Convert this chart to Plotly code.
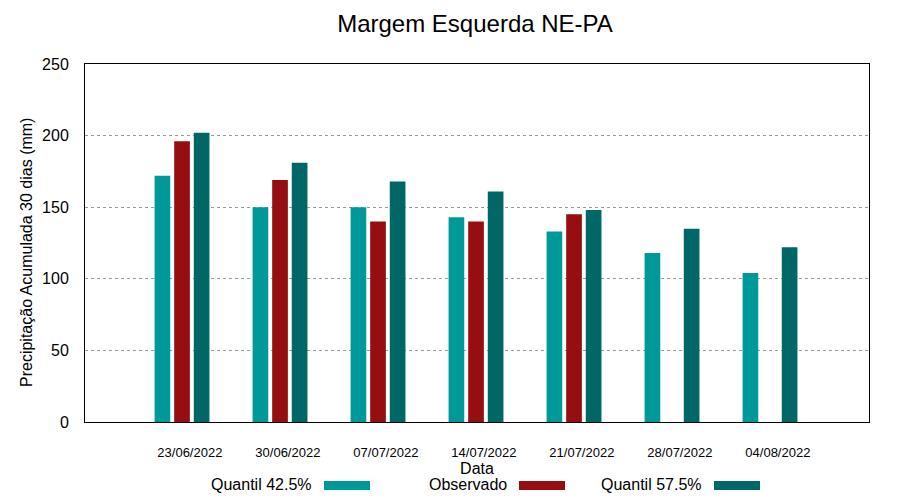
import plotly.graph_objects as go

dates = ["23/06/2022", "30/06/2022", "07/07/2022", "14/07/2022", "21/07/2022", "28/07/2022", "04/08/2022"]
q425 = [172, 150, 150, 143, 133, 118, 104]
observado = [196, 169, 140, 140, 145, None, None]
q575 = [202, 181, 168, 161, 148, 135, 122]

names = ["Quantil 42.5%", "Observado", "Quantil 57.5%"]
colors = ["#009999", "#960e10", "#006666"]
series = [q425, observado, q575]

# page offset (body margin) compensation
OFF = 8
W, H = 900 - OFF, 500 - OFF
ml, mr, mt, mb = 85 - OFF, 31, 64 - OFF, 78
pw, ph = W - ml - mr, H - mt - mb


def px_x(p):
    return (p - OFF - ml) / pw


def px_y(p):
    return 1 - (p - OFF - mt) / ph


x = list(range(len(dates)))
fig = go.Figure()
for nm, col, vals in zip(names, colors, series):
    fig.add_trace(go.Bar(x=x, y=vals, name=nm, marker=dict(color=col, line=dict(width=0)),
                         showlegend=False))

# gnuplot-style legend (text then swatch)
leg_text_x = [311, 506, 701]
for nm, col, tx in zip(names, colors, leg_text_x):
    fig.add_annotation(text=nm, x=px_x(tx + 3), y=px_y(484), xref="paper", yref="paper",
                       xanchor="right", yanchor="middle", showarrow=False,
                       font=dict(family="Liberation Sans, Arial", size=16, color="black"))
    fig.add_shape(type="rect", xref="paper", yref="paper",
                  x0=px_x(tx + 13), x1=px_x(tx + 59),
                  y0=px_y(490), y1=px_y(481),
                  fillcolor=col, line=dict(width=0))

# y-axis title
fig.add_annotation(text="Precipitação Acumulada 30 dias (mm)", x=px_x(26), y=px_y(253),
                   xref="paper", yref="paper", xanchor="center", yanchor="middle",
                   textangle=-90, showarrow=False,
                   font=dict(family="Liberation Sans, Arial", size=16, color="black"))

fig.update_layout(
    width=W, height=H,
    margin=dict(l=ml, r=mr, t=mt, b=mb),
    barmode="group", bargap=0.4, bargroupgap=0.2,
    plot_bgcolor="white", paper_bgcolor="white",
    font=dict(family="Liberation Sans, Arial", color="black"),
    title=dict(text="Margem Esquerda NE-PA", x=(475 - OFF) / W, xanchor="center",
               y=1 - (24 - OFF) / H, yanchor="middle", font=dict(size=24, color="black")),
)
fig.update_xaxes(
    range=[-0.99, 7.01], tickmode="array", tickvals=[i + 0.08 for i in x], ticktext=dates,
    tickfont=dict(size=13), ticks="", ticklabelstandoff=18,
    showline=True, linecolor="black", linewidth=1, mirror=True, showgrid=False, zeroline=False,
    title=dict(text="Data", font=dict(size=16), standoff=0),
)
fig.update_yaxes(
    range=[0, 250], tickvals=[0, 50, 100, 150, 200, 250], tickfont=dict(size=16),
    ticks="", ticklabelstandoff=12,
    showline=True, linecolor="black", linewidth=1, mirror=True,
    showgrid=True, gridcolor="#999999", griddash="dot", gridwidth=1, zeroline=False,
)
fig.write_html("out.html")
